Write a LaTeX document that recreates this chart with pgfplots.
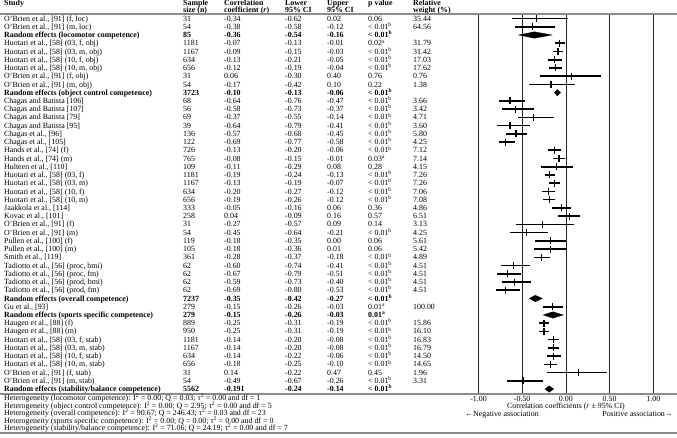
\documentclass[border=0pt]{standalone}
\usepackage{fontspec}
\setmainfont{Liberation Serif}
\usepackage{pgfplots}
\usepackage{pgfplotstable}
\pgfplotsset{compat=1.18}
\newcommand\fs{\fontsize{7.9}{8.5}\selectfont}
\newcommand\pb{< 0.01\textsuperscript{b}}
\definecolor{lg}{RGB}{140,140,140}

\pgfplotstableread{
row r lo hi
1 -0.34 -0.62 0.02
2 -0.38 -0.58 -0.12
4 -0.07 -0.13 -0.01
5 -0.09 -0.15 -0.03
6 -0.13 -0.21 -0.05
7 -0.12 -0.19 -0.04
8 0.06 -0.30 0.40
9 -0.17 -0.42 0.10
11 -0.64 -0.76 -0.47
12 -0.58 -0.73 -0.37
13 -0.37 -0.55 -0.14
14 -0.64 -0.79 -0.41
15 -0.57 -0.68 -0.45
16 -0.69 -0.77 -0.58
17 -0.13 -0.20 -0.06
18 -0.08 -0.15 -0.01
19 -0.11 -0.29 0.08
20 -0.19 -0.24 -0.13
21 -0.13 -0.19 -0.07
22 -0.20 -0.27 -0.12
23 -0.19 -0.26 -0.12
24 -0.05 -0.16 0.06
25 0.04 -0.09 0.16
26 -0.27 -0.57 0.09
27 -0.45 -0.64 -0.21
28 -0.18 -0.35 0.00
29 -0.18 -0.36 0.01
30 -0.28 -0.37 -0.18
31 -0.60 -0.74 -0.41
32 -0.67 -0.79 -0.51
33 -0.59 -0.73 -0.40
34 -0.69 -0.80 -0.53
36 -0.15 -0.26 -0.03
38 -0.25 -0.31 -0.19
39 -0.25 -0.31 -0.19
40 -0.14 -0.20 -0.08
41 -0.14 -0.20 -0.08
42 -0.14 -0.22 -0.06
43 -0.18 -0.25 -0.10
44 0.14 -0.22 0.47
45 -0.49 -0.67 -0.26
}\studies

% n, study, size, r, lower, upper, p, weight
\newcommand\R[9][]{%
  \pgfmathsetmacro\yb{-(18.5+(#2-1)*8.23+2.7)}%
  \node[T,font=\fs#1] at (4pt,\yb pt) {#3};
  \node[T,font=\fs#1] at (183pt,\yb pt) {#4};
  \node[T,font=\fs#1] at (224pt,\yb pt) {#5};
  \node[T,font=\fs#1] at (285pt,\yb pt) {#6};
  \node[T,font=\fs#1] at (327pt,\yb pt) {#7};
  \node[T,font=\fs#1] at (368pt,\yb pt) {#8};
  \node[T,font=\fs#1] at (413pt,\yb pt) {#9};
}

\begin{document}
\begin{tikzpicture}[T/.style={anchor=base west, inner sep=0pt}]
\path (0,0) rectangle (677pt,-437pt);
\begin{axis}[at={(478.5pt,-394pt)}, anchor=south west, scale only axis,
  width=174.8pt, height=380pt, xmin=-1, xmax=1, ymin=0.45, ymax=46.6,
  y dir=reverse, axis x line*=bottom, axis y line=none,
  x axis line style={draw=none},
  xtick={-1,-0.5,0,0.5,1}, ytick=\empty, xmajorgrids,
  major grid style={black!85, line width=0.8pt}, major tick length=0pt,
  xticklabel style={font=\fs, inner sep=0pt, anchor=north, yshift=-2.3pt, /pgf/number format/.cd, fixed, fixed zerofill, precision=2, assume math mode=true},
  clip=false]
\addplot[black, only marks, mark=|, mark size=3.5pt, mark options={line width=1.2pt},
  error bars/.cd, x dir=both, x explicit, error mark=none,
  error bar style={line width=1.6pt, black}]
  table[x=r, y=row, x error plus expr=\thisrow{hi}-\thisrow{r}, x error minus expr=\thisrow{r}-\thisrow{lo}] {\studies};
\addplot[fill=black, draw=black, line width=0.3pt] coordinates {(-0.54,3) (-0.36,2.61) (-0.16,3) (-0.36,3.39)} -- cycle;
\addplot[fill=black, draw=black, line width=0.3pt] coordinates {(-0.13,10) (-0.10,9.61) (-0.06,10) (-0.10,10.39)} -- cycle;
\addplot[fill=black, draw=black, line width=0.3pt] coordinates {(-0.42,35) (-0.35,34.61) (-0.27,35) (-0.35,35.39)} -- cycle;
\addplot[fill=black, draw=black, line width=0.3pt] coordinates {(-0.26,37) (-0.15,36.61) (-0.03,37) (-0.15,37.39)} -- cycle;
\addplot[fill=black, draw=black, line width=0.3pt] coordinates {(-0.24,46) (-0.191,45.61) (-0.14,46) (-0.191,46.39)} -- cycle;
\end{axis}

% header
\begin{scope}[every node/.style={T, font=\fs\bfseries}]
\node at (4pt,-5.5pt) {Study};
\node at (183pt,-5.5pt) {Sample};
\node at (183pt,-12pt) {size (n)};
\node at (224pt,-5.5pt) {Correlation};
\node at (224pt,-12pt) {coefficient (\textit{r})};
\node at (285pt,-5.5pt) {Lower};
\node at (285pt,-12pt) {95\% CI};
\node at (327pt,-5.5pt) {Upper};
\node at (327pt,-12pt) {95\% CI};
\node at (368pt,-5.5pt) {p value};
\node at (413pt,-5.5pt) {Relative};
\node at (413pt,-12pt) {weight (\%)};
\end{scope}

\R{1}{O'Brien et al., [91] (f, loc)}{31}{-0.34}{-0.62}{0.02}{0.06}{35.44}
\R{2}{O'Brien et al., [91] (m, loc)}{54}{-0.38}{-0.58}{-0.12}{\pb}{64.56}
\R[\bfseries]{3}{Random effects (locomotor competence)}{85}{-0.36}{-0.54}{-0.16}{\pb}{}
\R{4}{Huotari et al., [58] (03, f, obj)}{1181}{-0.07}{-0.13}{-0.01}{0.02\textsuperscript{a}}{31.79}
\R{5}{Huotari et al., [58] (03, m, obj)}{1167}{-0.09}{-0.15}{-0.03}{\pb}{31.42}
\R{6}{Huotari et al., [58] (10, f, obj)}{634}{-0.13}{-0.21}{-0.05}{\pb}{17.03}
\R{7}{Huotari et al., [58] (10, m, obj)}{656}{-0.12}{-0.19}{-0.04}{\pb}{17.62}
\R{8}{O'Brien et al., [91] (f, obj)}{31}{0.06}{-0.30}{0.40}{0.76}{0.76}
\R{9}{O'Brien et al., [91] (m, obj)}{54}{-0.17}{-0.42}{0.10}{0.22}{1.38}
\R[\bfseries]{10}{Random effects (object control competence)}{3723}{-0.10}{-0.13}{-0.06}{\pb}{}
\R{11}{Chagas and Batista [106]}{68}{-0.64}{-0.76}{-0.47}{\pb}{3.66}
\R{12}{Chagas and Batista [107]}{56}{-0.58}{-0.73}{-0.37}{\pb}{3.42}
\R{13}{Chagas and Batista [79]}{69}{-0.37}{-0.55}{-0.14}{\pb}{4.71}
\R{14}{Chagas and Batista [95]}{39}{-0.64}{-0.79}{-0.41}{\pb}{3.60}
\R{15}{Chagas et al., [96]}{136}{-0.57}{-0.68}{-0.45}{\pb}{5.80}
\R{16}{Chagas et al., [105]}{122}{-0.69}{-0.77}{-0.58}{\pb}{4.25}
\R{17}{Hands et al., [74] (f)}{726}{-0.13}{-0.20}{-0.06}{\pb}{7.12}
\R{18}{Hands et al., [74] (m)}{765}{-0.08}{-0.15}{-0.01}{0.03\textsuperscript{a}}{7.14}
\R{19}{Hulteen et al., [110]}{109}{-0.11}{-0.29}{0.08}{0.28}{4.15}
\R{20}{Huotari et al., [58] (03, f)}{1181}{-0.19}{-0.24}{-0.13}{\pb}{7.26}
\R{21}{Huotari et al., [58] (03, m)}{1167}{-0.13}{-0.19}{-0.07}{\pb}{7.26}
\R{22}{Huotari et al., [58] (10, f)}{634}{-0.20}{-0.27}{-0.12}{\pb}{7.06}
\R{23}{Huotari et al., [58] (10, m)}{656}{-0.19}{-0.26}{-0.12}{\pb}{7.08}
\R{24}{Jaakkola et al., [114]}{333}{-0.05}{-0.16}{0.06}{0.36}{4.86}
\R{25}{Kovac et al., [101]}{258}{0.04}{-0.09}{0.16}{0.57}{6.51}
\R{26}{O'Brien et al., [91] (f)}{31}{-0.27}{-0.57}{0.09}{0.14}{3.13}
\R{27}{O'Brien et al., [91] (m)}{54}{-0.45}{-0.64}{-0.21}{\pb}{4.25}
\R{28}{Pullen et al., [100] (f)}{119}{-0.18}{-0.35}{0.00}{0.06}{5.61}
\R{29}{Pullen et al., [100] (m)}{105}{-0.18}{-0.36}{0.01}{0.06}{5.42}
\R{30}{Smith et al., [119]}{361}{-0.28}{-0.37}{-0.18}{\pb}{4.89}
\R{31}{Tadiotto et al., [56] (proc, bmi)}{62}{-0.60}{-0.74}{-0.41}{\pb}{4.51}
\R{32}{Tadiotto et al., [56] (proc, fm)}{62}{-0.67}{-0.79}{-0.51}{\pb}{4.51}
\R{33}{Tadiotto et al., [56] (prod, bmi)}{62}{-0.59}{-0.73}{-0.40}{\pb}{4.51}
\R{34}{Tadiotto et al., [56] (prod, fm)}{62}{-0.69}{-0.80}{-0.53}{\pb}{4.51}
\R[\bfseries]{35}{Random effects (overall competence)}{7237}{-0.35}{-0.42}{-0.27}{\pb}{}
\R{36}{Gu et al., [93]}{279}{-0.15}{-0.26}{-0.03}{0.01\textsuperscript{a}}{100.00}
\R[\bfseries]{37}{Random effects (sports specific competence)}{279}{-0.15}{-0.26}{-0.03}{0.01\textsuperscript{a}}{}
\R{38}{Haugen et al., [88] (f)}{889}{-0.25}{-0.31}{-0.19}{\pb}{15.86}
\R{39}{Haugen et al., [88] (m)}{950}{-0.25}{-0.31}{-0.19}{\pb}{16.10}
\R{40}{Huotari et al., [58] (03, f, stab)}{1181}{-0.14}{-0.20}{-0.08}{\pb}{16.83}
\R{41}{Huotari et al., [58] (03, m, stab)}{1167}{-0.14}{-0.20}{-0.08}{\pb}{16.79}
\R{42}{Huotari et al., [58] (10, f, stab)}{634}{-0.14}{-0.22}{-0.06}{\pb}{14.50}
\R{43}{Huotari et al., [58] (10, m, stab)}{656}{-0.18}{-0.25}{-0.10}{\pb}{14.65}
\R{44}{O'Brien et al., [91] (f, stab)}{31}{0.14}{-0.22}{0.47}{0.45}{1.96}
\R{45}{O'Brien et al., [91] (m, stab)}{54}{-0.49}{-0.67}{-0.26}{\pb}{3.31}
\R[\bfseries]{46}{Random effects (stability/balance competence)}{5562}{-0.191}{-0.24}{-0.14}{\pb}{}

\draw[lg, line width=1.5pt] (0,-14pt) -- (677pt,-14pt);
\draw[lg, line width=1.5pt] (0,-394pt) -- (677pt,-394pt);
\draw[lg, line width=1.5pt] (0,-432.8pt) -- (677pt,-432.8pt);

\begin{scope}[every node/.style={T, font=\fs}]
\node at (4pt,-400.6pt) {Heterogeneity (locomotor competence): I\textsuperscript{2} = 0.00; Q = 0.03; τ\textsuperscript{2} = 0.00 and df = 1};
\node at (4pt,-408.1pt) {Heterogeneity (object control competence): I\textsuperscript{2} = 0.00; Q = 2.95; τ\textsuperscript{2} = 0.00 and df = 5};
\node at (4pt,-415.6pt) {Heterogeneity (overall competence): I\textsuperscript{2} = 90.67; Q = 246.43; τ\textsuperscript{2} = 0.03 and df = 23};
\node at (4pt,-423.1pt) {Heterogeneity (sports specific competence): I\textsuperscript{2} = 0.00; Q = 0.00; τ\textsuperscript{2} = 0.00 and df = 0};
\node at (4pt,-430.6pt) {Heterogeneity (stability/balance competence): I\textsuperscript{2} = 71.06; Q = 24.19; τ\textsuperscript{2} = 0.00 and df = 7};
\node at (465pt,-416.3pt) {←Negative association};
\node[anchor=base east] at (673pt,-416.3pt) {Positive association→};
\node[anchor=base] at (566pt,-408.6pt) {Correlation coefficients (\textit{r} ± 95\% CI)};
\end{scope}
\pgfresetboundingbox
\path[use as bounding box] (0,0) rectangle (677pt,-437pt);
\end{tikzpicture}
\end{document}
